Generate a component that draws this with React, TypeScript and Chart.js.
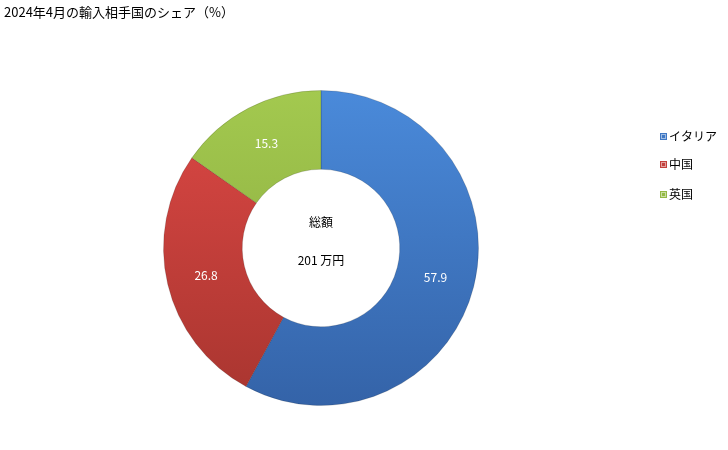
import React, { useEffect, useRef } from 'react';
import { Chart, registerables } from 'chart.js';

Chart.register(...registerables);

const TITLE = '2024年4月の輸入相手国のシェア（%）';
const countries = ['イタリア', '中国', '英国'];
const shares = [57.9, 26.8, 15.3];
const totalLines = ['総額', '201 万円'];

// top / bottom gradient colours per slice
const topColors = ['#4a8ada', '#dd4845', '#a3c94f'];
const bottomColors = ['#3463a8', '#a8352f', '#86a53c'];
const legendColors = ['#3f78c4', '#c3403c', '#93b844'];

const FONT = '"Noto Sans CJK JP", "Noto Sans", sans-serif';

const textPlugin = {
  id: 'textPlugin',
  afterDraw(chart: any) {
    const ctx = chart.ctx as CanvasRenderingContext2D;
    ctx.save();
    // title
    ctx.font = `13px ${FONT}`;
    ctx.fillStyle = '#000';
    ctx.textAlign = 'left';
    ctx.textBaseline = 'middle';
    ctx.fillText(TITLE, 4, 12);

    // slice labels
    ctx.font = `12px ${FONT}`;
    const meta = chart.getDatasetMeta(0);
    ctx.textAlign = 'center';
    ctx.fillStyle = '#fff';
    meta.data.forEach((arc: any, i: number) => {
      const p = arc.tooltipPosition();
      ctx.fillText(shares[i].toFixed(1), p.x, p.y);
    });

    // centre total
    const first = meta.data[0];
    if (first) {
      ctx.fillStyle = '#000';
      ctx.fillText(totalLines[0], first.x, first.y - 26);
      ctx.fillText(totalLines[1], first.x, first.y + 12);
    }

    // legend
    const legendY = [136, 164, 194];
    ctx.textAlign = 'left';
    countries.forEach((name, i) => {
      ctx.fillStyle = legendColors[i];
      ctx.fillRect(660, legendY[i] - 3, 7, 7);
      ctx.strokeStyle = 'rgba(255,255,255,0.5)';
      ctx.lineWidth = 1;
      ctx.strokeRect(661.5, legendY[i] - 1.5, 4, 4);
      ctx.fillStyle = '#000';
      ctx.fillText(name, 669, legendY[i]);
    });
    ctx.restore();
  },
};

export default function App() {
  const canvasRef = useRef<HTMLCanvasElement>(null);

  useEffect(() => {
    if (!canvasRef.current) return;
    const chart = new Chart(canvasRef.current, {
      type: 'doughnut',
      data: {
        labels: countries,
        datasets: [
          {
            data: shares,
            backgroundColor: (c: any) => {
              const area = c.chart.chartArea;
              const i = c.dataIndex ?? 0;
              if (!area) return topColors[i];
              const g = c.chart.ctx.createLinearGradient(0, area.top, 0, area.bottom);
              g.addColorStop(0, topColors[i]);
              g.addColorStop(1, bottomColors[i]);
              return g;
            },
            borderColor: 'rgba(0,0,0,0.15)',
            borderWidth: 1,
          },
        ],
      },
      options: {
        responsive: false,
        animation: false,
        cutout: '50%',
        layout: { padding: { left: 163, right: 249, top: 90, bottom: 44 } },
        plugins: {
          legend: { display: false },
          title: { display: false },
          tooltip: { enabled: false },
        },
      },
      plugins: [textPlugin],
    });
    return () => chart.destroy();
  }, []);

  return (
    <div style={{ position: 'fixed', left: 0, top: 0, width: 728, height: 450, background: '#fff' }}>
      <canvas ref={canvasRef} width={728} height={450} />
    </div>
  );
}
